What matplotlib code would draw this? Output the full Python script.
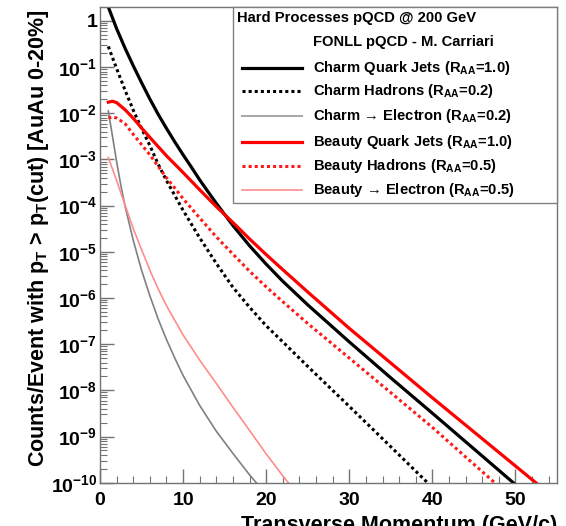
import matplotlib
matplotlib.use('Agg')
import matplotlib.pyplot as plt
from matplotlib.lines import Line2D
from matplotlib.patches import Rectangle
from matplotlib.ticker import FixedLocator, LogLocator, MultipleLocator, NullFormatter

plt.rcParams['font.family'] = ['Liberation Sans', 'DejaVu Sans']
plt.rcParams['font.weight'] = 'bold'
plt.rcParams['mathtext.fontset'] = 'custom'
plt.rcParams['mathtext.rm'] = 'Liberation Sans:bold'
plt.rcParams['mathtext.bf'] = 'Liberation Sans:bold'
plt.rcParams['mathtext.it'] = 'Liberation Sans:bold'
plt.rcParams['mathtext.default'] = 'bf'

# curves (pT in GeV/c, counts/event above cut)
charm_jets_pt = [1, 2, 3, 4, 5, 6, 7, 8, 9, 10, 11, 12, 13, 14, 16, 18, 20, 22, 25, 30, 35, 40, 45, 50, 55]
charm_jets = [2.0, 0.68, 0.26, 0.107, 0.046, 0.0204, 9.5e-3, 4.7e-3, 2.4e-3, 1.26e-3, 6.8e-4, 3.6e-4,
              2.0e-4, 1.12e-4, 3.7e-5, 1.35e-5, 5.4e-6, 2.3e-6, 7.1e-7, 1.12e-7, 1.86e-8, 3.2e-9,
              5.4e-10, 9.1e-11, 1.55e-11]

charm_had_pt = [1, 2, 3, 4, 5, 6, 7, 8, 9, 10, 12, 14, 16, 18, 20, 22, 25, 30, 35, 40]
charm_had = [0.28, 9.3e-2, 3.2e-2, 1.17e-2, 4.7e-3, 2.0e-3, 7.9e-4, 3.5e-4, 1.66e-4, 7.9e-5, 2.0e-5,
             5.6e-6, 1.7e-6, 6.3e-7, 2.5e-7, 1.12e-7, 3.3e-8, 4.5e-9, 6.0e-10, 7.9e-11]

charm_ele_pt = [1, 1.5, 2, 2.5, 3, 4, 5, 6, 7, 8, 9, 10, 12, 14, 16, 18, 20]
charm_ele = [1.12e-2, 3.2e-3, 8.9e-4, 2.8e-4, 1.0e-4, 1.78e-5, 4.0e-6, 1.12e-6, 3.5e-7, 1.26e-7, 5.0e-8,
             2.1e-8, 4.7e-9, 1.3e-9, 4.3e-10, 1.48e-10, 5.6e-11]

beauty_jets_pt = [1, 1.5, 2, 3, 4, 5, 6, 7, 8, 9, 10, 12, 14, 16, 18, 20, 22, 25, 30, 35, 40, 45, 50, 55]
beauty_jets = [1.74e-2, 1.82e-2, 1.7e-2, 1.2e-2, 7.8e-3, 4.8e-3, 3.0e-3, 1.9e-3, 1.2e-3, 7.9e-4, 5.2e-4,
               2.2e-4, 9.5e-5, 4.3e-5, 1.9e-5, 8.7e-6, 4.1e-6, 1.35e-6, 2.2e-7, 3.9e-8, 6.9e-9,
               1.26e-9, 2.3e-10, 4.2e-11]

beauty_had_pt = [1, 1.5, 2, 3, 4, 5, 6, 7, 8, 9, 10, 12, 14, 16, 18, 20, 22, 25, 30, 35, 40, 45, 50]
beauty_had = [7.9e-3, 8.3e-3, 7.9e-3, 6.0e-3, 3.5e-3, 2.1e-3, 1.26e-3, 7.1e-4, 4.0e-4, 2.4e-4, 1.41e-4,
              5.4e-5, 2.1e-5, 8.9e-6, 3.8e-6, 1.74e-6, 8.3e-7, 2.8e-7, 5.0e-8, 8.9e-9, 1.58e-9,
              2.5e-10, 4.0e-11]

beauty_ele_pt = [1, 2, 2.5, 3, 4, 5, 6, 7, 8, 10, 12, 14, 16, 18, 20, 22, 24]
beauty_ele = [1.1e-3, 3.5e-4, 1.9e-4, 1.05e-4, 3.2e-5, 1.12e-5, 4.0e-6, 1.58e-6, 6.8e-7, 1.58e-7, 4.5e-8,
              1.41e-8, 4.3e-9, 1.35e-9, 4.2e-10, 1.41e-10, 5.0e-11]

labels = ['Charm Quark Jets (R$_{AA}$=1.0)',
          'Charm Hadrons (R$_{AA}$=0.2)',
          'Charm \u2192 Electron (R$_{AA}$=0.2)',
          'Beauty Quark Jets (R$_{AA}$=1.0)',
          'Beauty Hadrons (R$_{AA}$=0.5)',
          'Beauty \u2192 Electron (R$_{AA}$=0.5)']

ytick_vals = [10.0 ** -k for k in range(0, 11)]
ytick_labels = ['1'] + [r'$10^{-%d}$' % k for k in range(1, 11)]

W, H = 566, 526
def fx(px):
    return px / W
def fy(py):
    return 1 - py / H

fig = plt.figure(figsize=(W / 100, H / 100), dpi=100)
ax = fig.add_axes([fx(100), fy(482.7), fx(557) - fx(100), fy(7) - fy(482.7)])

dots = (0, (1, 1))
styles = [dict(color='black', lw=2.3, ls='-'),
          dict(color='black', lw=2.2, ls=dots),
          dict(color='0.5', lw=1.2, ls='-'),
          dict(color='#ff0000', lw=2.3, ls='-'),
          dict(color='#ff1a1a', lw=2.2, ls=dots),
          dict(color='#ff8c8c', lw=1.2, ls='-')]
legend_styles = list(styles)
legend_styles[2] = dict(color='0.65', lw=1.4, ls='-')

series = [(charm_jets_pt, charm_jets), (charm_had_pt, charm_had), (charm_ele_pt, charm_ele),
          (beauty_jets_pt, beauty_jets), (beauty_had_pt, beauty_had), (beauty_ele_pt, beauty_ele)]

for (xs, ys), st in zip(series, styles):
    ax.plot(xs, ys, **st)

ax.set_yscale('log')
ax.set_xlim(0, 55)
ax.set_ylim(1e-10, 2)

ax.yaxis.set_major_locator(FixedLocator(ytick_vals))
ax.set_yticklabels(ytick_labels)
ax.yaxis.set_minor_locator(LogLocator(base=10, subs=range(2, 10), numticks=20))
ax.yaxis.set_minor_formatter(NullFormatter())
ax.xaxis.set_major_locator(MultipleLocator(10))
ax.xaxis.set_minor_locator(MultipleLocator(2))

ax.tick_params(which='both', direction='in', top=False, right=False, colors='0.45',
               labelcolor='black', labelsize=14)
ax.tick_params(which='major', length=10, width=1)
ax.tick_params(which='minor', length=5, width=0.8)
ax.tick_params(axis='y', pad=2)
ax.tick_params(axis='x', pad=7)
for s in ax.spines.values():
    s.set_color('0.45')
    s.set_linewidth(1)

fig.text(fx(39), fy(10), 'Counts/Event with p$_{T}$ > p$_{T}$(cut) [AuAu 0-20%]',
         rotation=90, ha='center', va='top', fontsize=15.5)
fig.text(fx(557), fy(515), 'Transverse Momentum (GeV/c)', ha='right', va='top', fontsize=15.5)

# legend box
fig.add_artist(Rectangle((fx(233), fy(203)), fx(557) - fx(233), fy(7) - fy(203),
                         transform=fig.transFigure, facecolor='white', edgecolor='0.5', lw=1, zorder=5))
fig.text(fx(237), fy(18), 'Hard Processes pQCD @ 200 GeV', va='center', fontsize=10.6, zorder=6)
fig.text(fx(313), fy(42), 'FONLL pQCD - M. Carriari', va='center', fontsize=10.6, zorder=6)
entry_y = [68, 91, 116, 142, 166, 190]
for lab, st, yy in zip(labels, legend_styles, entry_y):
    fig.add_artist(Line2D([fx(242), fx(302)], [fy(yy), fy(yy)], transform=fig.transFigure, zorder=6, **st))
    fig.text(fx(313), fy(yy), lab, va='center', fontsize=10.6, zorder=6)

fig.savefig('out.png', dpi=100)
